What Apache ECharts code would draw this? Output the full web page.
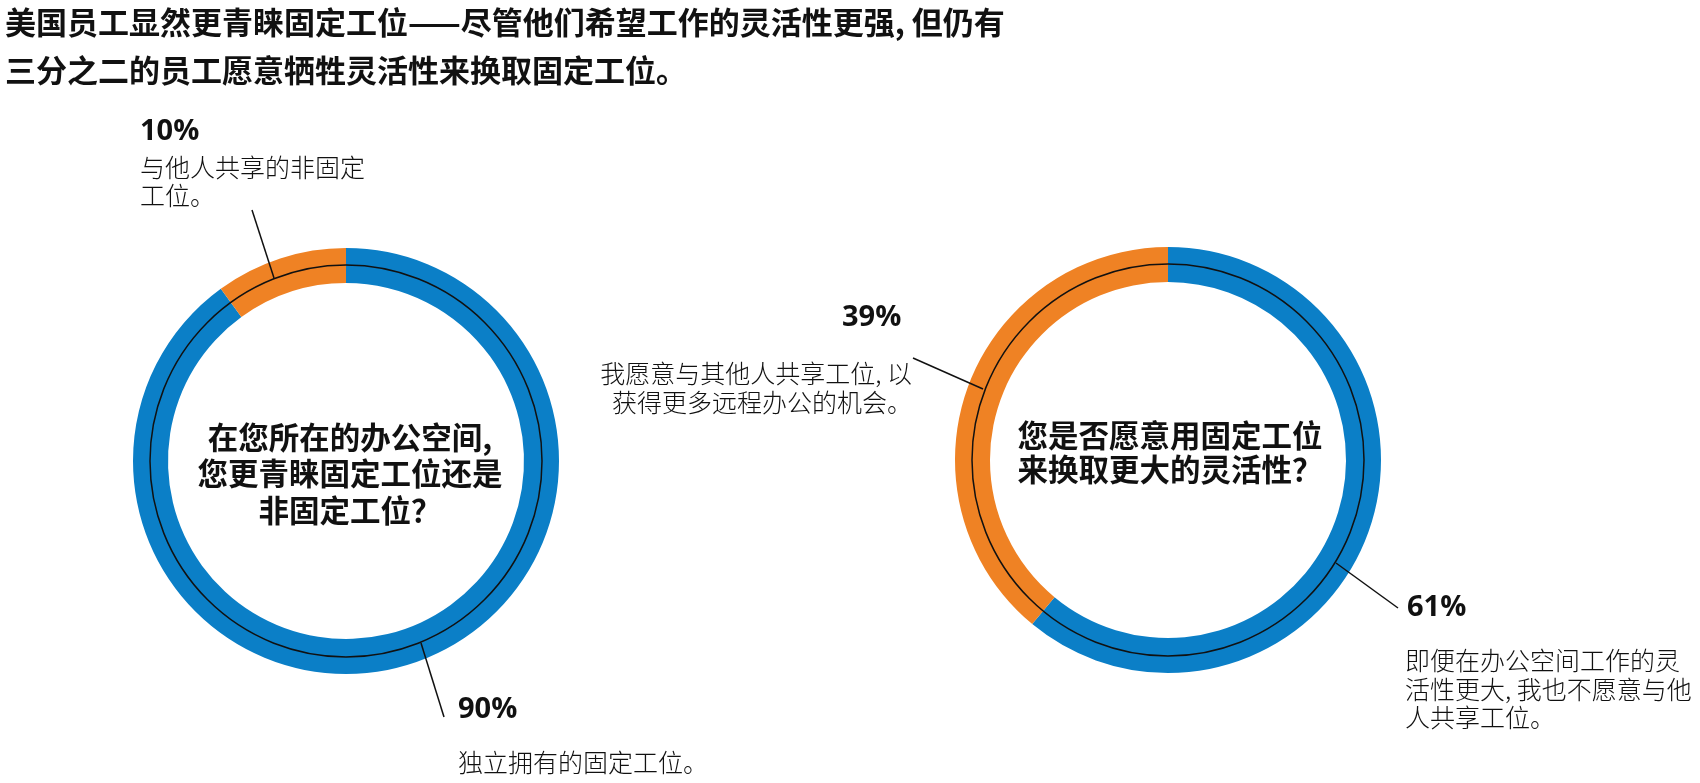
<!DOCTYPE html>
<html>
<head>
<meta charset="utf-8">
<script src="https://cdn.jsdelivr.net/npm/echarts@6/dist/echarts.min.js"></script>
<style>
  html, body { margin: 0; padding: 0; background: #fff; }
  #main { width: 1700px; height: 783px; }
</style>
</head>
<body>
<div id="main"></div>
<script>
// 工位偏好（双环形图）
const titleLines = ['美国员工显然更青睐固定工位——尽管他们希望工作的灵活性更强, 但仍有', '三分之二的员工愿意牺牲灵活性来换取固定工位。']

const leftQuestion = ['在您所在的办公空间,', '您更青睐固定工位还是', '非固定工位？']
const leftNames = ['独立拥有的固定工位。', '与他人共享的非固定工位。']
const leftValues = [90, 10]

const rightQuestion = ['您是否愿意用固定工位', '来换取更大的灵活性？']
const rightNames = ['即便在办公空间工作的灵活性更大, 我也不愿意与他人共享工位。', '我愿意与其他人共享工位, 以获得更多远程办公的机会。']
const rightValues = [61, 39]

const colors = ['#0b7fc7', '#ef8224']

const cjk = '"Noto Sans CJK SC", "Noto Sans", sans-serif'
const num = '"Open Sans", "Noto Sans", sans-serif'

const leftCenter = [346, 461]
const rightCenter = [1168, 460]

let myChart = echarts.init(document.getElementById('main'))

function donut (center, names, values) {
  return {
    type: 'pie',
    center: center,
    radius: [178, 213],
    startAngle: 90,
    clockwise: true,
    silent: true,
    animation: false,
    label: { show: false },
    labelLine: { show: false },
    itemStyle: { borderWidth: 0 },
    data: names.map((n, i) => ({ name: n, value: values[i], itemStyle: { color: colors[i] } }))
  }
}

function text (x, y, str, size, weight, align, family) {
  return {
    type: 'text',
    z: 100,
    style: {
      x: x, y: y, text: str,
      font: weight + ' ' + size + 'px ' + (family || cjk),
      fill: '#111',
      textAlign: align || 'left',
      textVerticalAlign: 'middle'
    }
  }
}

function line (pts) {
  return {
    type: 'polyline',
    z: 100,
    shape: { points: pts },
    style: { stroke: '#111', lineWidth: 1.5, fill: null }
  }
}

function ring (c) {
  return {
    type: 'circle',
    z: 100,
    shape: { cx: c[0], cy: c[1], r: 196 },
    style: { stroke: '#111', lineWidth: 1.5, fill: null }
  }
}

let graphics = [
  text(5, 22, titleLines[0], 31, 'bold'),
  text(5, 70, titleLines[1], 31, 'bold'),
  ring(leftCenter),
  ring(rightCenter),
  // 左图标注
  text(140, 132, leftValues[1] + '%', 29, 'bold', 'left', num),
  text(140, 167, '与他人共享的非固定', 25, '300'),
  text(140, 195, '工位。', 25, '300'),
  line([[252, 210], [274, 278]]),
  text(458, 710, leftValues[0] + '%', 29, 'bold', 'left', num),
  text(458, 762, leftNames[0], 25, '300'),
  line([[421, 643], [444, 717]]),
  // 右图标注
  text(842, 318, rightValues[1] + '%', 29, 'bold', 'left', num),
  text(912, 373, '我愿意与其他人共享工位, 以', 25, '300', 'right'),
  text(912, 402, '获得更多远程办公的机会。', 25, '300', 'right'),
  line([[913, 358], [983, 389]]),
  text(1407, 608, rightValues[0] + '%', 29, 'bold', 'left', num),
  text(1405, 660, '即便在办公空间工作的灵', 25, '300'),
  text(1405, 689, '活性更大, 我也不愿意与他', 25, '300'),
  text(1405, 717, '人共享工位。', 25, '300'),
  line([[1336, 563], [1398, 608]])
]

leftQuestion.forEach((s, i) => graphics.push(text(350, 437 + i * 36.5, s, 30.5, 'bold', 'center')))
rightQuestion.forEach((s, i) => graphics.push(text(1170, 435 + i * 34, s, 30.5, 'bold', 'center')))

let options = {
  backgroundColor: '#fff',
  animation: false,
  series: [
    donut(leftCenter, leftNames, leftValues),
    donut(rightCenter, rightNames, rightValues)
  ],
  graphic: graphics
}
myChart.setOption(options)
</script>
</body>
</html>
